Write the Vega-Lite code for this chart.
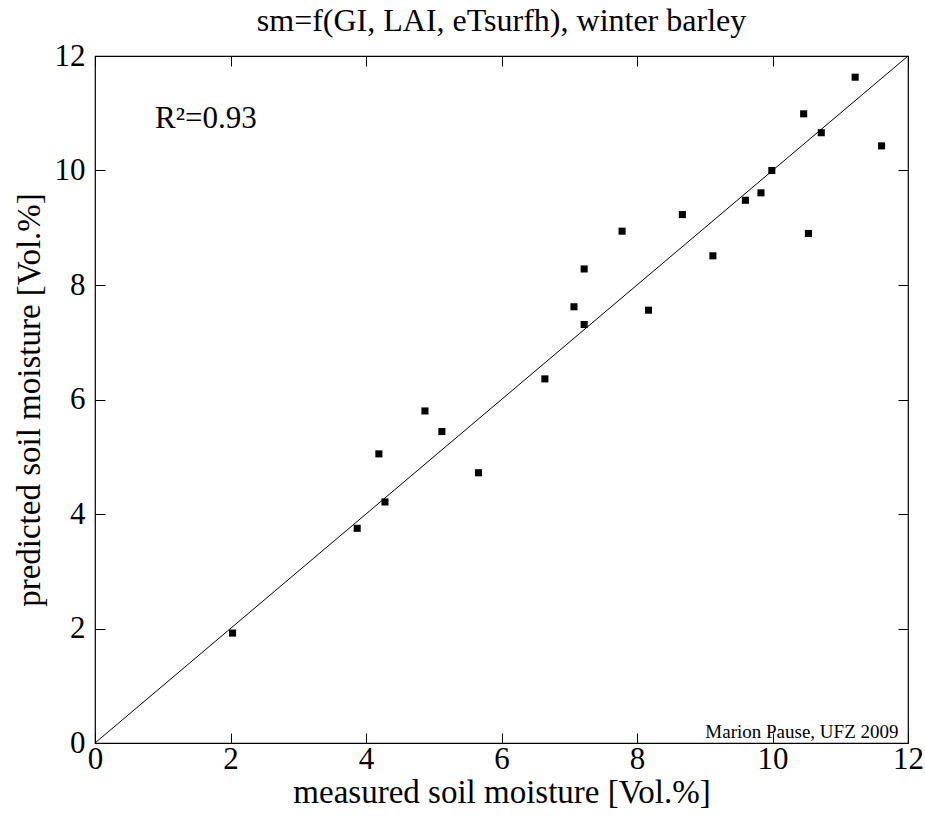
{
  "$schema": "https://vega.github.io/schema/vega-lite/v6.json",
  "width": 813,
  "height": 687,
  "autosize": {"type": "none"},
  "padding": {"left": 95, "top": 56, "right": 17, "bottom": 74},
  "background": "white",
  "config": {
    "view": {"stroke": "black", "strokeWidth": 1.2},
    "font": "Liberation Serif"
  },
  "title": {
    "text": "sm=f(GI, LAI, eTsurfh), winter barley",
    "fontSize": 32,
    "font": "Liberation Serif",
    "fontWeight": "normal",
    "color": "black",
    "anchor": "middle",
    "offset": 2
  },
  "datasets": {
    "points": [
      {"measured": 2.03, "predicted": 1.92},
      {"measured": 3.87, "predicted": 3.75},
      {"measured": 4.28, "predicted": 4.21},
      {"measured": 4.19, "predicted": 5.05},
      {"measured": 4.87, "predicted": 5.8},
      {"measured": 5.12, "predicted": 5.44},
      {"measured": 5.66, "predicted": 4.72},
      {"measured": 6.64, "predicted": 6.36},
      {"measured": 7.07, "predicted": 7.62},
      {"measured": 7.22, "predicted": 8.28},
      {"measured": 7.22, "predicted": 7.31},
      {"measured": 7.78, "predicted": 8.94},
      {"measured": 8.17, "predicted": 7.56},
      {"measured": 8.67, "predicted": 9.23},
      {"measured": 9.12, "predicted": 8.51},
      {"measured": 9.6, "predicted": 9.48},
      {"measured": 9.83, "predicted": 9.61},
      {"measured": 9.99, "predicted": 10.0},
      {"measured": 10.53, "predicted": 8.9},
      {"measured": 10.46, "predicted": 10.99},
      {"measured": 10.72, "predicted": 10.66},
      {"measured": 11.61, "predicted": 10.43},
      {"measured": 11.22, "predicted": 11.63}
    ],
    "diag": [{"x": 0, "y": 0}, {"x": 12, "y": 12}],
    "notes": [
      {"label": "R²=0.93", "nx": 0.886, "ny": 10.74}
    ],
    "credit": [
      {"label": "Marion Pause, UFZ 2009", "nx": 11.86, "ny": 0.09}
    ]
  },
  "layer": [
    {
      "data": {"name": "diag"},
      "mark": {"type": "line", "color": "black", "strokeWidth": 1},
      "encoding": {
        "x": {
          "field": "x",
          "type": "quantitative",
          "scale": {"domain": [0, 12], "nice": false, "zero": false},
          "axis": {
            "orient": "bottom",
            "title": "measured soil moisture [Vol.%]",
            "values": [0, 2, 4, 6, 8, 10, 12],
            "grid": false,
            "domain": false,
            "tickSize": -10,
            "tickColor": "black",
            "tickWidth": 1,
            "labelPadding": 11,
            "labelFontSize": 31,
            "labelColor": "black",
            "labelFont": "Liberation Serif",
            "labelFlush": false,
            "labelOverlap": false,
            "titleFontSize": 33,
            "titleFont": "Liberation Serif",
            "titleFontWeight": "normal",
            "titleColor": "black",
            "titlePadding": 2
          }
        },
        "y": {
          "field": "y",
          "type": "quantitative",
          "scale": {"domain": [0, 12], "nice": false, "zero": false},
          "axis": {
            "orient": "left",
            "title": "predicted soil moisture [Vol.%]",
            "values": [0, 2, 4, 6, 8, 10, 12],
            "grid": false,
            "domain": false,
            "tickSize": -10,
            "tickColor": "black",
            "tickWidth": 1,
            "labelPadding": 20,
            "labelFontSize": 31,
            "labelColor": "black",
            "labelFont": "Liberation Serif",
            "labelFlush": false,
            "labelOverlap": false,
            "titleFontSize": 33,
            "titleFont": "Liberation Serif",
            "titleFontWeight": "normal",
            "titleColor": "black",
            "titlePadding": 8
          }
        }
      }
    },
    {
      "data": {"name": "points"},
      "mark": {"type": "square", "color": "black", "filled": true, "size": 50, "opacity": 1},
      "encoding": {
        "x": {
          "field": "measured",
          "type": "quantitative",
          "axis": {
            "orient": "top",
            "title": null,
            "values": [0, 2, 4, 6, 8, 10, 12],
            "grid": false,
            "domain": false,
            "labels": false,
            "tickSize": -10,
            "tickColor": "black",
            "tickWidth": 1
          }
        },
        "y": {
          "field": "predicted",
          "type": "quantitative",
          "axis": {
            "orient": "right",
            "title": null,
            "values": [0, 2, 4, 6, 8, 10, 12],
            "grid": false,
            "domain": false,
            "labels": false,
            "tickSize": -10,
            "tickColor": "black",
            "tickWidth": 1
          }
        }
      }
    },
    {
      "data": {"name": "notes"},
      "mark": {"type": "text", "align": "left", "baseline": "alphabetic", "fontSize": 31, "font": "Liberation Serif", "color": "black"},
      "encoding": {
        "x": {"field": "nx", "type": "quantitative", "axis": null},
        "y": {"field": "ny", "type": "quantitative", "axis": null},
        "text": {"field": "label"}
      }
    },
    {
      "data": {"name": "credit"},
      "mark": {"type": "text", "align": "right", "baseline": "alphabetic", "fontSize": 19, "font": "Liberation Serif", "color": "black"},
      "encoding": {
        "x": {"field": "nx", "type": "quantitative", "axis": null},
        "y": {"field": "ny", "type": "quantitative", "axis": null},
        "text": {"field": "label"}
      }
    }
  ],
  "resolve": {"axis": {"x": "independent", "y": "independent"}}
}
